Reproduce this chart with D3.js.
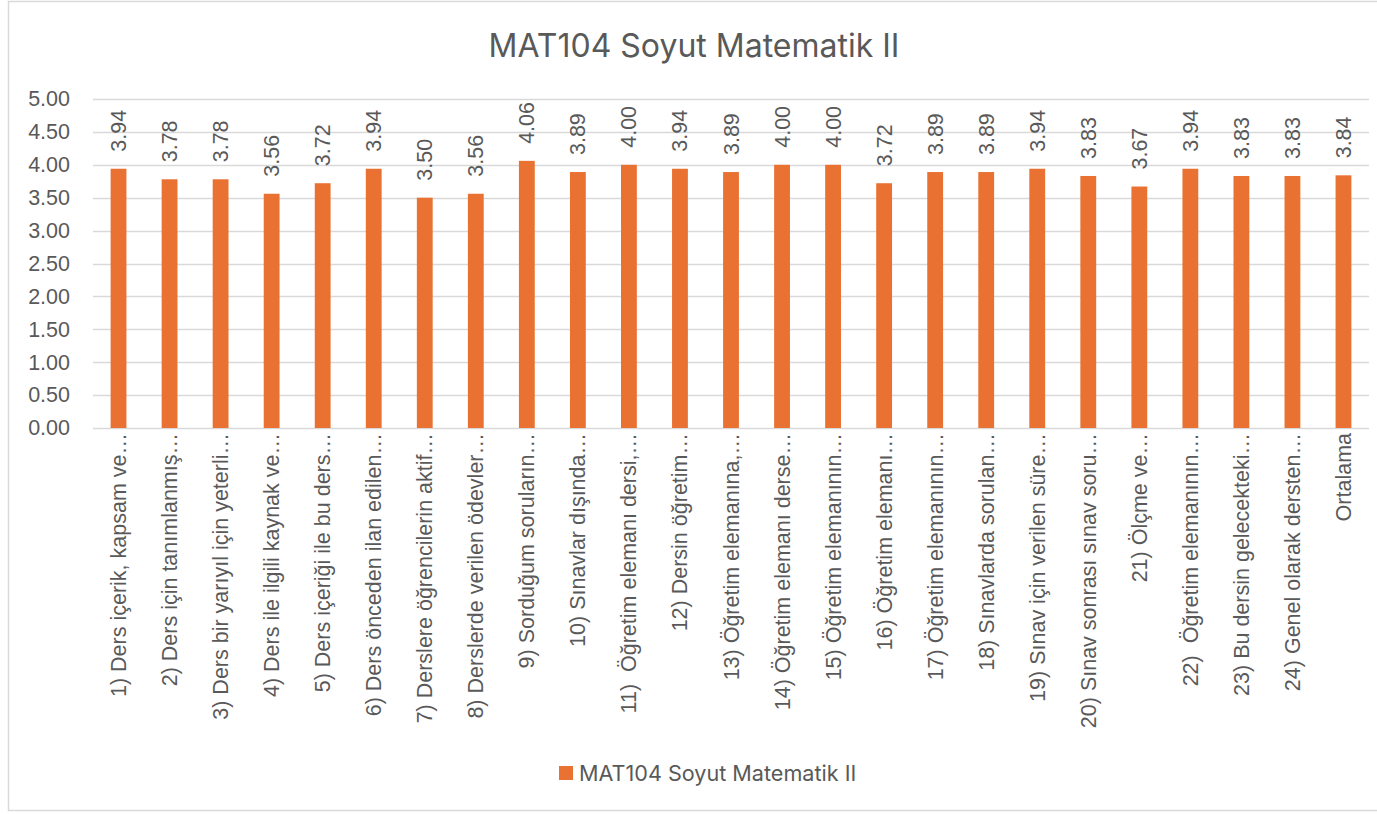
<!DOCTYPE html>
<html>
<head>
<meta charset="utf-8">
<script src="https://cdn.jsdelivr.net/npm/d3@7"></script>
<style>
  body { margin: 0; background: #fff; }
  text { fill: #595959; }
</style>
</head>
<body>
<script>
const categories = [
  '1) Ders içerik, kapsam ve…',
  '2) Ders için tanımlanmış…',
  '3) Ders bir yarıyıl için yeterli…',
  '4) Ders ile ilgili kaynak ve…',
  '5) Ders içeriği ile bu ders…',
  '6) Ders önceden ilan edilen…',
  '7) Derslere öğrencilerin aktif…',
  '8) Derslerde verilen ödevler…',
  '9) Sorduğum soruların…',
  '10) Sınavlar dışında…',
  '11)  Öğretim elemanı dersi,…',
  '12) Dersin öğretim…',
  '13) Öğretim elemanına,…',
  '14) Öğretim elemanı derse…',
  '15) Öğretim elemanının…',
  '16) Öğretim elemanı…',
  '17) Öğretim elemanının…',
  '18) Sınavlarda sorulan…',
  '19) Sınav için verilen süre…',
  '20) Sınav sonrası sınav soru…',
  '21) Ölçme ve…',
  '22)  Öğretim elemanının…',
  '23) Bu dersin gelecekteki…',
  '24) Genel olarak dersten…',
  'Ortalama'
];
const values = [3.94, 3.78, 3.78, 3.56, 3.72, 3.94, 3.50, 3.56, 4.06, 3.89, 4.00, 3.94,
  3.89, 4.00, 4.00, 3.72, 3.89, 3.89, 3.94, 3.83, 3.67, 3.94, 3.83, 3.83, 3.84];
const yTicks = [0, 0.5, 1, 1.5, 2, 2.5, 3, 3.5, 4, 4.5, 5];
const seriesName = 'MAT104 Soyut Matematik II';
const chartTitle = 'MAT104 Soyut Matematik II';

const width = 1377, height = 814;
const plot = { left: 93, right: 1369, top: 99, bottom: 428 };
const orange = '#E97132';
const grid = '#D9D9D9';
const numFont = '"Liberation Sans", Arial, sans-serif';
const titleFont = 'Inter, "Open Sans", sans-serif';

const svg = d3.select('body')
  .append('svg')
  .attr('width', width)
  .attr('height', height);

// chart frame
svg.append('rect')
  .attr('x', 8.5).attr('y', 1.5)
  .attr('width', width + 10).attr('height', 809)
  .attr('fill', '#fff')
  .attr('stroke', grid)
  .attr('stroke-width', 1.5);

const x = d3.scaleBand()
  .domain(categories)
  .range([plot.left, plot.right])
  .paddingInner(0.69)
  .paddingOuter(0.345);

const y = d3.scaleLinear()
  .domain([0, 5])
  .range([plot.bottom, plot.top]);

// gridlines
svg.append('g')
  .selectAll('line')
  .data(yTicks)
  .join('line')
  .attr('x1', plot.left).attr('x2', plot.right)
  .attr('y1', d => Math.round(y(d)) + 0.5)
  .attr('y2', d => Math.round(y(d)) + 0.5)
  .attr('stroke', grid)
  .attr('stroke-width', 1.3);

// y axis labels
const yAxis = svg.append('g')
  .attr('transform', `translate(${plot.left - 23},0)`)
  .call(d3.axisLeft(y).tickValues(yTicks).tickFormat(d3.format('.2f')).tickSize(0).tickPadding(0));
yAxis.select('.domain').remove();
yAxis.selectAll('text')
  .style('font-family', numFont)
  .style('font-size', '21.5px')
  .attr('fill', '#595959');

// bars
svg.append('g')
  .selectAll('rect')
  .data(values)
  .join('rect')
  .attr('x', (d, i) => x(categories[i]))
  .attr('width', x.bandwidth())
  .attr('y', d => y(d))
  .attr('height', d => y(0) - y(d))
  .attr('fill', orange);

// data labels
svg.append('g')
  .selectAll('text')
  .data(values)
  .join('text')
  .attr('transform', (d, i) =>
    `translate(${x(categories[i]) + x.bandwidth() / 2},${y(d) - 17}) rotate(-90)`)
  .attr('dy', '0.35em')
  .attr('text-anchor', 'start')
  .style('font-family', numFont)
  .style('font-size', '21.5px')
  .text(d => d3.format('.2f')(d));

// category labels
svg.append('g')
  .selectAll('text')
  .data(categories)
  .join('text')
  .attr('transform', d => `translate(${x(d) + x.bandwidth() / 2},${plot.bottom + 5}) rotate(-90)`)
  .attr('dy', '0.35em')
  .attr('text-anchor', 'end')
  .style('white-space', 'pre')
  .style('font-family', numFont)
  .style('font-size', '21.5px')
  .text(d => d);

// title
svg.append('text')
  .attr('x', 694)
  .attr('y', 57)
  .attr('text-anchor', 'middle')
  .style('font-family', titleFont)
  .style('font-size', '32px')
  .text(chartTitle);

// legend
const legend = svg.append('g').attr('transform', 'translate(559,766)');
legend.append('rect')
  .attr('width', 14).attr('height', 14)
  .attr('fill', orange);
legend.append('text')
  .attr('x', 20)
  .attr('y', 14.5)
  .style('font-family', titleFont)
  .style('font-size', '21.6px')
  .text(seriesName);
</script>
</body>
</html>
